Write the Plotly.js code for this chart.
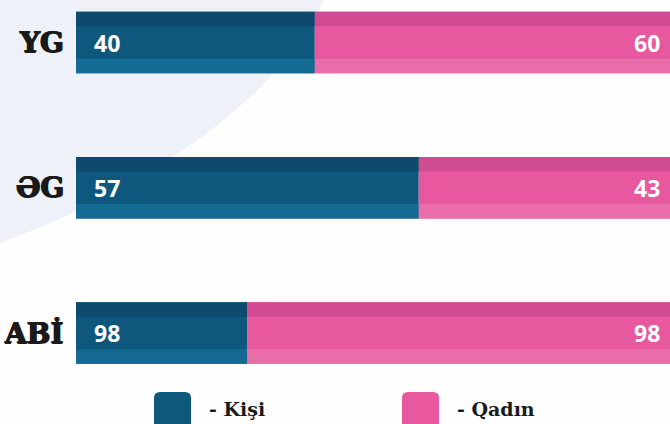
<!DOCTYPE html>
<html>
<head>
<meta charset="utf-8">
<script src="https://cdn.plot.ly/plotly-3.0.1.min.js"></script>
<style>
html,body{margin:0;padding:0;background:#fefefe;}
#chart{width:670px;height:424px;}
</style>
</head>
<body>
<div id="chart"></div>
<script>
// ---- data ----
const categories = ["YG", "ƏG", "ABİ"];
const kisiShare = [40.2, 57.7, 28.8];     // bar share (%) for men, as drawn
const qadinShare = [59.8, 42.3, 71.2];    // bar share (%) for women, as drawn
const kisiLabels = ["40", "57", "98"];
const qadinLabels = ["60", "43", "98"];
const seriesNames = ["Kişi", "Qadın"];

// ---- styling ----
const W = 670, H = 424;
const blue = {top: "#0e4a6d", mid: "#0f587d", bot: "#136a92"};
const pink = {top: "#d04b92", mid: "#e8589e", bot: "#e96da8"};
const BW = 0.422, SW = 0.099;
const stripes = [
  {key: "mid", offset: -BW / 2, width: BW},
  {key: "top", offset: -BW / 2, width: SW},
  {key: "bot", offset: BW / 2 - SW, width: SW}
];

const px = x => x / W;
const py = y => 1 - y / H;

const traces = [];
const kisiBase = kisiShare.map(() => 0);
stripes.forEach(s => {
  traces.push({
    type: "bar", orientation: "h", y: categories, x: kisiShare, base: kisiBase,
    offset: s.offset, width: s.width, name: seriesNames[0], showlegend: false,
    marker: {color: blue[s.key], line: {width: 0}}, hoverinfo: "skip"
  });
  traces.push({
    type: "bar", orientation: "h", y: categories, x: qadinShare, base: kisiShare,
    offset: s.offset, width: s.width, name: seriesNames[1], showlegend: false,
    marker: {color: pink[s.key], line: {width: 0}}, hoverinfo: "skip"
  });
});

const annotations = [];
categories.forEach((c, i) => {
  annotations.push({
    x: 0, y: c, xref: "x", yref: "y", text: c, showarrow: false,
    xanchor: "right", yanchor: "middle", xshift: -10, yshift: 0,
    font: {family: "DejaVu Serif", size: 28, color: "#1b1a1a", weight: 700,
           shadow: "0.7px 0 0 #1b1a1a, -0.7px 0 0 #1b1a1a, 0 0.6px 0 #1b1a1a"}
  });
  annotations.push({
    x: 0, y: c, xref: "x", yref: "y", text: kisiLabels[i], showarrow: false,
    xanchor: "left", yanchor: "middle", xshift: 16, yshift: 0,
    font: {family: "Open Sans", size: 23, color: "#ffffff", weight: 700}
  });
  annotations.push({
    x: kisiShare[i] + qadinShare[i], y: c, xref: "x", yref: "y", text: qadinLabels[i], showarrow: false,
    xanchor: "right", yanchor: "middle", xshift: -8, yshift: 0,
    font: {family: "Open Sans", size: 23, color: "#ffffff", weight: 700}
  });
});

// legend (custom)
function roundRect(x0, y0, x1, y1, r) {
  const P = (x, y) => px(x) + "," + py(y);
  return "M" + P(x0 + r, y0) + " L" + P(x1 - r, y0) + " Q" + P(x1, y0) + " " + P(x1, y0 + r) +
    " L" + P(x1, y1 - r) + " Q" + P(x1, y1) + " " + P(x1 - r, y1) +
    " L" + P(x0 + r, y1) + " Q" + P(x0, y1) + " " + P(x0, y1 - r) +
    " L" + P(x0, y0 + r) + " Q" + P(x0, y0) + " " + P(x0 + r, y0) + " Z";
}
const legendItems = [
  {name: seriesNames[0], color: blue.mid, x0: 154, tx: 207},
  {name: seriesNames[1], color: pink.mid, x0: 402, tx: 455}
];
const shapes = [];
// background curved area
const P = (x, y) => px(x) + "," + py(y);
shapes.push({
  type: "path", xref: "paper", yref: "paper", layer: "below",
  path: "M" + P(0, 0) + " L" + P(324, 0) + " C" + P(279, 100) + " " + P(140, 192) + " " + P(0, 243) + " Z",
  fillcolor: "#eef2f8", line: {width: 0}
});
legendItems.forEach(l => {
  shapes.push({
    type: "path", xref: "paper", yref: "paper",
    path: roundRect(l.x0, 392, l.x0 + 37, 436, 6),
    fillcolor: l.color, line: {width: 0}
  });
  annotations.push({
    x: px(l.tx), y: py(409), xref: "paper", yref: "paper", text: "- " + l.name, showarrow: false,
    xanchor: "left", yanchor: "middle",
    font: {family: "DejaVu Serif", size: 19, color: "#1b1a1a", weight: 700}
  });
});

const layout = {
  width: W, height: H,
  margin: {l: 0, r: 0, t: 0, b: 0},
  paper_bgcolor: "#fefefe", plot_bgcolor: "#fefefe",
  barmode: "overlay", showlegend: false,
  xaxis: {range: [-76 / 594 * 100, 100], visible: false, fixedrange: true},
  yaxis: {type: "category", range: [2.6265, -0.2926], visible: false, fixedrange: true},
  annotations: annotations, shapes: shapes
};
Plotly.newPlot("chart", traces, layout, {displayModeBar: false, staticPlot: true});
</script>
</body>
</html>
